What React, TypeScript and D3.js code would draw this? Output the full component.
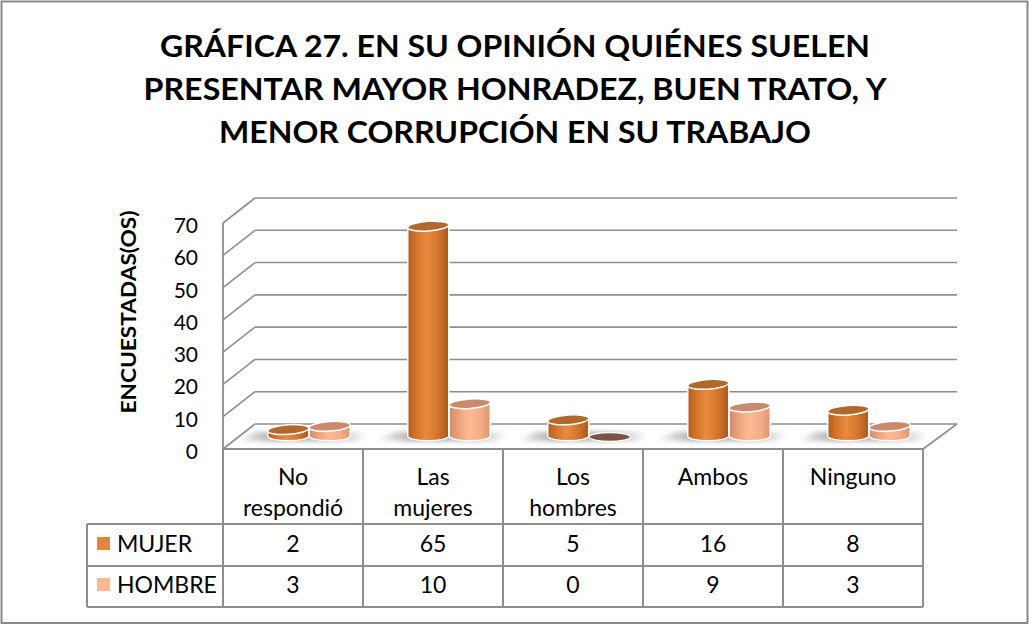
import React from "react";
import * as d3 from "d3";

const categories: string[][] = [["No", "respondió"], ["Las", "mujeres"], ["Los", "hombres"], ["Ambos"], ["Ninguno"]];
const seriesNames = ["MUJER", "HOMBRE"];
const mujer = [2, 65, 5, 16, 8];
const hombre = [3, 10, 0, 9, 3];
const yTicks = [0, 10, 20, 30, 40, 50, 60, 70];
const titleLines = [
  "GRÁFICA 27. EN SU OPINIÓN QUIÉNES SUELEN",
  "PRESENTAR MAYOR HONRADEZ, BUEN TRATO, Y",
  "MENOR CORRUPCIÓN EN SU TRABAJO",
];
const yTitle = "ENCUESTADAS(OS)";

const W = 1029;
const H = 625;
const FONT = "Lato, 'Open Sans', sans-serif";
const GRID = "#8e8e8e";

export default function App() {
  const catKeys = categories.map((c) => c.join(" "));
  const x = d3.scaleBand<string>().domain(catKeys).range([223, 923]);
  const inner = d3.scaleBand<string>().domain(seriesNames).range([44.5, 127.5]);
  const h = d3.scaleLinear().domain([0, 70]).range([0, 226]);
  const frontBase = 449;
  const depthX = 32;
  const depthY = 25;
  const cylBase = 436;
  const rx = 20.5;
  const ry = 4.8;
  const series = [mujer, hombre];
  const titleWidths = [710, 743, 592];

  const cylinder = (cx: number, v: number, s: number, key: string) => {
    if (v <= 0) {
      return (
        <ellipse key={key} cx={cx} cy={cylBase + 1} rx={rx} ry={ry - 0.5} fill="#7a5444" stroke="#fff" strokeWidth={1.2} />
      );
    }
    const top = cylBase - h(v);
    const body = `M${cx - rx},${top} L${cx - rx},${cylBase} A${rx},${ry} 0 0 0 ${cx + rx},${cylBase} L${cx + rx},${top} Z`;
    return (
      <g key={key}>
        <path d={body} fill={`url(#grad${s})`} stroke="#fff" strokeWidth={1.5} />
        <ellipse cx={cx} cy={top} rx={rx} ry={ry} fill={s === 0 ? "#b2672c" : "#c98b6c"} stroke="#fff" strokeWidth={1.5} transform={`rotate(-4 ${cx} ${top})`} />
      </g>
    );
  };

  return (
    <svg width={W} height={H} style={{ position: "absolute", left: 0, top: 0, background: "#fff" }} fontFamily={FONT}>
      <defs>
        <linearGradient id="grad0" x1="0" x2="1" y1="0" y2="0">
          <stop offset="0%" stopColor="#b05e1f" />
          <stop offset="22%" stopColor="#d6752d" />
          <stop offset="45%" stopColor="#e98b3e" />
          <stop offset="72%" stopColor="#d57630" />
          <stop offset="100%" stopColor="#a9591c" />
        </linearGradient>
        <linearGradient id="grad1" x1="0" x2="1" y1="0" y2="0">
          <stop offset="0%" stopColor="#d28a67" />
          <stop offset="30%" stopColor="#f2a982" />
          <stop offset="50%" stopColor="#fdb994" />
          <stop offset="78%" stopColor="#f3ab85" />
          <stop offset="100%" stopColor="#dc9573" />
        </linearGradient>
        <linearGradient id="shade" x1="0" x2="1" y1="0" y2="0">
          <stop offset="0%" stopColor="#8a8a8a" stopOpacity={0} />
          <stop offset="30%" stopColor="#8a8a8a" stopOpacity={0.8} />
          <stop offset="75%" stopColor="#8a8a8a" stopOpacity={0.6} />
          <stop offset="100%" stopColor="#8a8a8a" stopOpacity={0} />
        </linearGradient>
        <filter id="blur" x="-30%" y="-100%" width="160%" height="300%">
          <feGaussianBlur stdDeviation="2.5" />
        </filter>
      </defs>

      <rect x={1.5} y={1.5} width={1026} height={621.5} fill="#fff" stroke="#898989" strokeWidth={2} />

      {titleLines.map((t, i) => (
        <text key={i} x={515} y={57 + i * 43} textAnchor="middle" fontSize={29.5} fontWeight={700} fill="#000"
          textLength={titleWidths[i]} lengthAdjust="spacingAndGlyphs">{t}</text>
      ))}

      {/* side wall and back wall gridlines */}
      {yTicks.map((t) => (
        <g key={t}>
          <line x1={223} y1={frontBase - h(t)} x2={223 + depthX} y2={frontBase - depthY - h(t)} stroke={GRID} strokeWidth={1.6} />
          <line x1={223 + depthX} y1={frontBase - depthY - h(t)} x2={923 + depthX + 2} y2={frontBase - depthY - h(t)} stroke={GRID} strokeWidth={1.6} />
          <text x={198} y={frontBase - h(t) + 10} textAnchor="end" fontSize={21} fill="#000">{t}</text>
        </g>
      ))}
      <line x1={223} y1={frontBase - h(70)} x2={223} y2={frontBase} stroke={GRID} strokeWidth={1.8} />
      <line x1={923} y1={frontBase} x2={923 + depthX + 2} y2={frontBase - depthY} stroke={GRID} strokeWidth={1.6} />

      <text transform={`translate(136,312) rotate(-90)`} textAnchor="middle" fontSize={20} fontWeight={700} fill="#000"
        textLength={203} lengthAdjust="spacingAndGlyphs">{yTitle}</text>

      {/* shadows */}
      {catKeys.map((c) => {
        const b = x(c)!;
        const l = b + inner("MUJER")!;
        const r = b + inner("HOMBRE")! + inner.bandwidth();
        const pts = `${l - 32},${cylBase + 5} ${r + 8},${cylBase + 5} ${r + 18},${cylBase - 4} ${l - 12},${cylBase - 4}`;
        return <polygon key={c} points={pts} fill="url(#shade)" filter="url(#blur)" />;
      })}

      {/* cylinders */}
      {catKeys.map((c, i) => (
        <g key={c}>
          {series.map((vals, s) =>
            cylinder(x(c)! + inner(seriesNames[s])! + inner.bandwidth() / 2, vals[i], s, `${c}-${s}`)
          )}
        </g>
      ))}

      {/* data table */}
      <g stroke={GRID} strokeWidth={2} fill="none">
        <line x1={223} y1={frontBase} x2={923} y2={frontBase} />
        <line x1={87} y1={524} x2={923} y2={524} />
        <line x1={87} y1={566} x2={923} y2={566} />
        <line x1={87} y1={607} x2={923} y2={607} />
        <line x1={87} y1={524} x2={87} y2={607} />
        {catKeys.map((c) => (
          <line key={c} x1={x(c)!} y1={frontBase} x2={x(c)!} y2={607} />
        ))}
        <line x1={923} y1={frontBase} x2={923} y2={607} />
      </g>
      {categories.map((lines, i) => (
        <text key={i} x={x(catKeys[i])! + x.bandwidth() / 2} textAnchor="middle" fontSize={23} fill="#000">
          {lines.map((ln, j) => (
            <tspan key={j} x={x(catKeys[i])! + x.bandwidth() / 2} y={485 + j * 31}>{ln}</tspan>
          ))}
        </text>
      ))}
      {series.map((vals, s) => (
        <g key={s}>
          <rect x={97} y={537 + s * 41} width={13} height={13} fill={s === 0 ? "#df8742" : "#fbb895"} />
          <text x={117} y={552 + s * 41} fontSize={23} fill="#000">{seriesNames[s]}</text>
          {vals.map((v, i) => (
            <text key={i} x={x(catKeys[i])! + x.bandwidth() / 2} y={552 + s * 41} textAnchor="middle" fontSize={23} fill="#000">{v}</text>
          ))}
        </g>
      ))}
    </svg>
  );
}
